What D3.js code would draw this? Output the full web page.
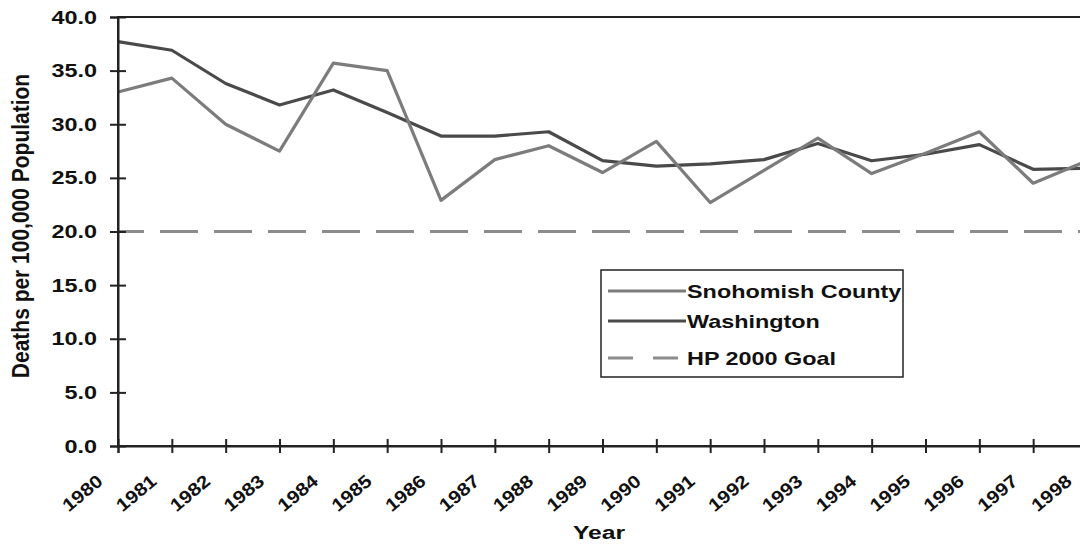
<!DOCTYPE html>
<html>
<head>
<meta charset="utf-8">
<script src="https://cdn.jsdelivr.net/npm/d3@7"></script>
<style>
  body { margin: 0; background: #fff; }
  text { font-family: "Liberation Sans", Arial, sans-serif; font-weight: bold; fill: #111; }
</style>
</head>
<body>
<div id="chart"></div>
<script>
// data
var years = [1980, 1981, 1982, 1983, 1984, 1985, 1986, 1987, 1988, 1989,
             1990, 1991, 1992, 1993, 1994, 1995, 1996, 1997, 1998];
var snohomish = [33.0, 34.3, 30.0, 27.5, 35.7, 35.0, 22.9, 26.7, 28.0, 25.5,
                 28.4, 22.7, 25.7, 28.7, 25.4, 27.3, 29.3, 24.5, 26.6];
var washington = [37.7, 36.9, 33.8, 31.8, 33.2, 31.1, 28.9, 28.9, 29.3, 26.6,
                  26.1, 26.3, 26.7, 28.2, 26.6, 27.2, 28.1, 25.8, 25.9];
var goal = 20.0;
var yTicks = [0, 5, 10, 15, 20, 25, 30, 35, 40];
var legendNames = ["Snohomish County", "Washington", "HP 2000 Goal"];

var width = 1080;
var height = 546;

// plot area
var plotLeft = 118;
var plotTop = 17;
var plotBottom = 446;
var plotRight = 1087;

// the text in the picture looks stretched sideways
var sx = 1.3;

var svg = d3
  .select("#chart")
  .append("svg")
  .attr("width", width)
  .attr("height", height);

var xScale = d3.scaleLinear().domain([1980, 1998]).range([plotLeft, plotRight]);
var yScale = d3.scaleLinear().domain([0, 40]).range([plotBottom, plotTop]);

// helper for the wide looking labels
function wideText(x, y, str, size, anchor) {
  return svg
    .append("text")
    .attr("transform", "translate(" + x + "," + y + ") scale(" + sx + ",1)")
    .attr("font-size", size)
    .attr("text-anchor", anchor)
    .text(str);
}

// plot area border (only top shows inside the window)
svg
  .append("rect")
  .attr("x", plotLeft)
  .attr("y", plotTop)
  .attr("width", plotRight - plotLeft)
  .attr("height", plotBottom - plotTop)
  .attr("fill", "none")
  .attr("stroke", "#222")
  .attr("stroke-width", 2);

// goal line
svg
  .append("line")
  .attr("x1", plotLeft)
  .attr("x2", plotRight)
  .attr("y1", yScale(goal))
  .attr("y2", yScale(goal))
  .attr("stroke", "#8c8c8c")
  .attr("stroke-width", 3)
  .attr("stroke-dasharray", "38,16")
  .attr("stroke-dashoffset", 12);

// series lines
var line = d3
  .line()
  .x(function(d, i) { return xScale(years[i]); })
  .y(function(d) { return yScale(d); });

svg
  .append("path")
  .datum(washington)
  .attr("d", line)
  .attr("fill", "none")
  .attr("stroke", "#4a4a4a")
  .attr("stroke-width", 3.2)
  .attr("stroke-linejoin", "round");

svg
  .append("path")
  .datum(snohomish)
  .attr("d", line)
  .attr("fill", "none")
  .attr("stroke", "#7c7c7c")
  .attr("stroke-width", 3.2)
  .attr("stroke-linejoin", "round");

// y axis
var yAxis = d3
  .axisLeft(yScale)
  .tickValues(yTicks)
  .tickSize(8)
  .tickFormat("");
var yG = svg
  .append("g")
  .attr("transform", "translate(" + plotLeft + ",0)")
  .call(yAxis);
yG.select(".domain").attr("stroke", "#222").attr("stroke-width", 2);
// ticks cross the axis
yG.selectAll(".tick line").attr("x1", 8).attr("x2", -8).attr("stroke", "#222").attr("stroke-width", 2);

yTicks.forEach(function(v) {
  wideText(97, yScale(v) + 6.5, d3.format(".1f")(v), 18, "end");
});

// x axis
var xAxis = d3
  .axisBottom(xScale)
  .tickValues(years)
  .tickSize(7)
  .tickFormat("");
var xG = svg
  .append("g")
  .attr("transform", "translate(0," + plotBottom + ")")
  .call(xAxis);
xG.select(".domain").attr("stroke", "#222").attr("stroke-width", 2);
xG.selectAll(".tick line").attr("y1", -7).attr("y2", 7).attr("stroke", "#222").attr("stroke-width", 2);

// slanted year labels
years.forEach(function(yr) {
  svg
    .append("text")
    .attr("transform", "translate(" + (xScale(yr) - 14) + ",483) rotate(-40) scale(1.15,1)")
    .attr("font-size", 18)
    .attr("text-anchor", "end")
    .text(String(yr));
});

// axis titles
wideText(599, 539, "Year", 19, "middle");
svg
  .append("text")
  .attr("transform", "translate(29,226) scale(1.15,1) rotate(-90)")
  .attr("font-size", 21)
  .attr("text-anchor", "middle")
  .text("Deaths per 100,000 Population");

// legend
svg
  .append("rect")
  .attr("x", 601)
  .attr("y", 270)
  .attr("width", 302)
  .attr("height", 107)
  .attr("fill", "#fff")
  .attr("stroke", "#222")
  .attr("stroke-width", 1.5);

var legendY = [291, 321, 358];
var legendColor = ["#7c7c7c", "#4a4a4a", "#8c8c8c"];
var legendDash = [null, null, "25,20"];

legendNames.forEach(function(name, i) {
  svg
    .append("line")
    .attr("x1", 608)
    .attr("x2", 686)
    .attr("y1", legendY[i])
    .attr("y2", legendY[i])
    .attr("stroke", legendColor[i])
    .attr("stroke-width", 3)
    .attr("stroke-dasharray", legendDash[i]);
  wideText(687, legendY[i] + 6.8, name, 18, "start");
});
</script>
</body>
</html>
